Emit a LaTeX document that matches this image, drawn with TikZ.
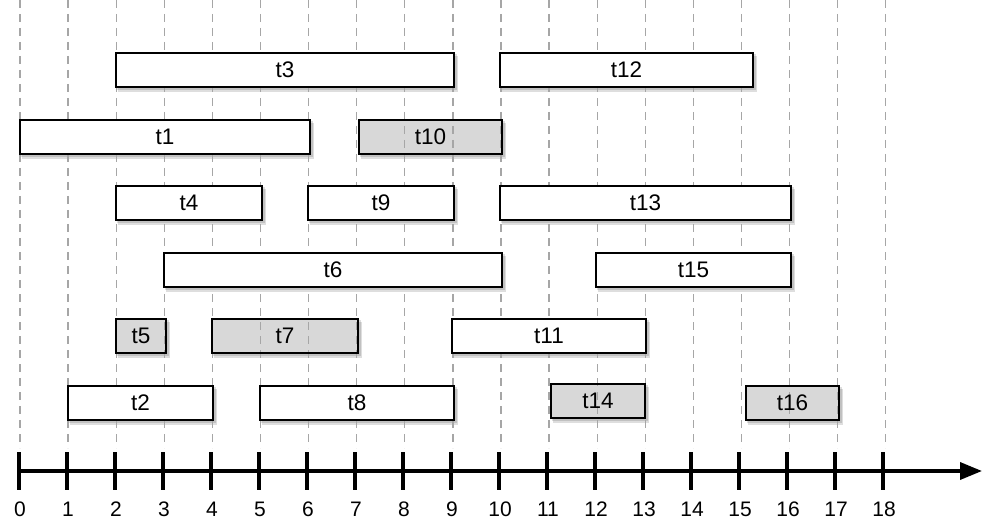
\documentclass[tikz,border=0pt]{standalone}
\usepackage{fontspec}
\setmainfont{Liberation Sans}
\usetikzlibrary{arrows.meta}
\pgfdeclarelayer{shadowl}
\pgfdeclarelayer{grayl}
\pgfdeclarelayer{gridl}
\pgfsetlayers{shadowl,grayl,gridl,main}
\definecolor{barGray}{HTML}{D8D8D8}
\definecolor{gridGray}{HTML}{A6A6A6}
\tikzset{
  bar/.style={draw=black, line width=1.6pt, inner sep=0pt, minimum height=34pt,
    font=\fontsize{22.5}{26}\selectfont, text=black},
  wbar/.style={bar, fill=white},
  gbar/.style={bar},
  gridline/.style={draw=gridGray, line width=1.3pt, dash pattern=on 8pt off 6pt},
  axisline/.style={line width=3.5pt, draw=black},
  ticknum/.style={font=\fontsize{21}{25}\selectfont, inner sep=0pt},
  barshadow/.style={fill=black, fill opacity=0.13},
}
\begin{document}
\begin{tikzpicture}[x=1pt,y=-1pt]
\useasboundingbox (0,0) rectangle (992,529);
% bars
\node[wbar, minimum width=338pt] (t3)  at (285,70)   {t3};
\node[wbar, minimum width=253pt] (t12) at (626.5,70) {t12};
\node[wbar, minimum width=290pt] (t1)  at (165,137)  {t1};
\node[gbar, minimum width=143pt] (t10) at (430.5,137) {t10};
\node[wbar, minimum width=146pt] (t4)  at (189,203)  {t4};
\node[wbar, minimum width=146pt] (t9)  at (381,203)  {t9};
\node[wbar, minimum width=291pt] (t13) at (645.5,203) {t13};
\node[wbar, minimum width=338pt] (t6)  at (333,270)  {t6};
\node[wbar, minimum width=195pt] (t15) at (693.5,270) {t15};
\node[gbar, minimum width=50pt]  (t5)  at (141,336)  {t5};
\node[gbar, minimum width=146pt] (t7)  at (285,336)  {t7};
\node[wbar, minimum width=194pt] (t11) at (549,336)  {t11};
\node[wbar, minimum width=145pt] (t2)  at (140.5,403) {t2};
\node[wbar, minimum width=194pt] (t8)  at (357,403)  {t8};
\node[gbar, minimum width=94pt]  (t14) at (598,401)  {t14};
\node[gbar, minimum width=93pt]  (t16) at (792.5,403) {t16};
% gray fills below grid
\begin{pgfonlayer}{grayl}
\foreach \n in {t10,t5,t7,t14,t16}
  \fill[barGray] (\n.south west) rectangle (\n.north east);
\end{pgfonlayer}
% shadows
\begin{pgfonlayer}{shadowl}
\foreach \n in {t1,t2,t3,t4,t5,t6,t7,t8,t9,t10,t11,t12,t13,t14,t15,t16}{
  \fill[barshadow] ([shift={(2,2)}]\n.south west) rectangle ([shift={(2,2)}]\n.north east);
  \fill[barshadow] ([shift={(3,4)}]\n.south west) rectangle ([shift={(3,4)}]\n.north east);
}
\end{pgfonlayer}
% grid
\begin{pgfonlayer}{gridl}
\foreach \k in {0,...,18}{
  \coordinate (gt\k) at ({20+48.1*\k},0);
  \coordinate (gb\k) at ({20+48.1*\k},448);
  \draw[gridline] (gt\k) -- (gb\k);
}
\end{pgfonlayer}
% axis
\coordinate (a0) at (19,471);
\coordinate (a1) at (982,471);
\draw[axisline, -{Triangle[length=22pt,width=17pt]}] (a0) -- (a1);
\foreach \k in {0,...,18}{
  \coordinate (tt\k) at ({19+48*\k},452);
  \coordinate (tb\k) at ({19+48*\k},490);
  \draw[axisline] (tt\k) -- (tb\k);
  \node[ticknum] (l\k) at ({20+48*\k},509) {\k};
}
\end{tikzpicture}
\end{document}
